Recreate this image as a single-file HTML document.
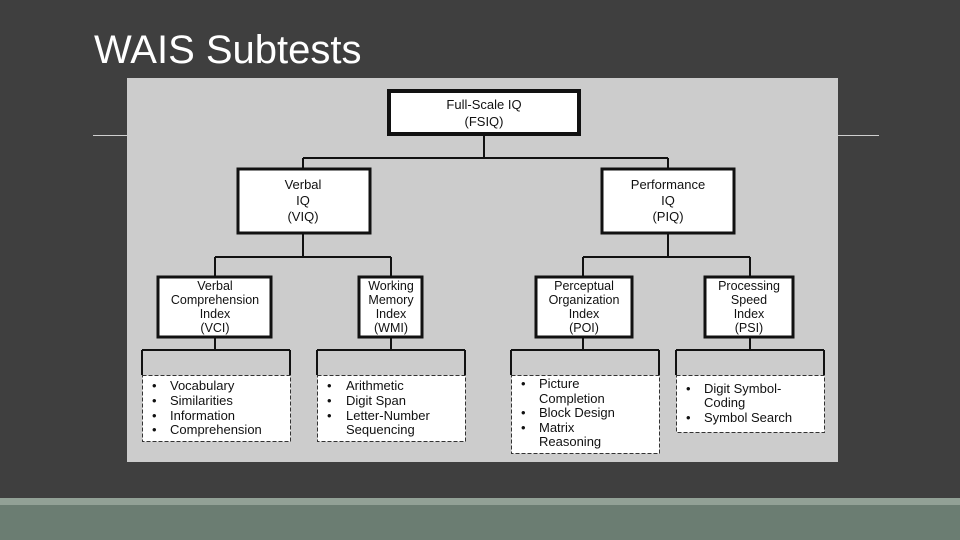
<!DOCTYPE html>
<html><head><meta charset="utf-8"><style>
html,body{margin:0;padding:0}
body{width:960px;height:540px;background:#3f3f3f;position:relative;overflow:hidden;font-family:"Liberation Sans",sans-serif}
</style></head><body>
<div style="position:absolute;left:94px;top:26px;font-size:40px;color:#fff;line-height:48px">WAIS Subtests</div>
<div style="position:absolute;left:93px;top:135px;width:786px;height:1px;background:#cfcfcf"></div>
<div style="position:absolute;left:0;top:498px;width:960px;height:7px;background:#92a196"></div>
<div style="position:absolute;left:0;top:505px;width:960px;height:35px;background:#6b7d72"></div>
<svg style="position:absolute;left:0;top:0" width="960" height="540" font-family="Liberation Sans, sans-serif" font-size="13" fill="#111">
<rect x="127" y="78" width="711" height="384" fill="#cccccc"/>
<g stroke="#111" stroke-width="2" fill="none">
<path d="M484 135V158M303 158H668M303 158V168M668 158V168"/>
<path d="M303 233V257M215 257H391M215 257V276M391 257V276"/>
<path d="M668 233V257M583 257H750M583 257V276M750 257V276"/>
<path d="M215 337V350M142 350H290M142 350V375M290 350V375"/>
<path d="M391 337V350M317 350H465M317 350V375M465 350V375"/>
<path d="M583 337V350M511 350H659M511 350V375M659 350V375"/>
<path d="M750 337V350M676 350H824M676 350V375M824 350V375"/>
</g>
<g fill="#fff" stroke="#111">
<rect x="389" y="91" width="190" height="43" stroke-width="4"/>
<rect x="238" y="169" width="132" height="64" stroke-width="3"/>
<rect x="602" y="169" width="132" height="64" stroke-width="3"/>
<rect x="158" y="277" width="113" height="60" stroke-width="3"/>
<rect x="359" y="277" width="63" height="60" stroke-width="3"/>
<rect x="536" y="277" width="96" height="60" stroke-width="3"/>
<rect x="705" y="277" width="88" height="60" stroke-width="3"/>
</g>
<g fill="#fff" stroke="#333" stroke-width="1" stroke-dasharray="4,2">
<rect x="142.5" y="375.5" width="148" height="66"/>
<rect x="317.5" y="375.5" width="148" height="66"/>
<rect x="511.5" y="375.5" width="148" height="78"/>
<rect x="676.5" y="375.5" width="148" height="57"/>
</g>
<g text-anchor="middle">
<text x="484" y="109">Full-Scale IQ</text><text x="484" y="126">(FSIQ)</text>
<text x="303" y="189">Verbal</text><text x="303" y="205">IQ</text><text x="303" y="221">(VIQ)</text>
<text x="668" y="189">Performance</text><text x="668" y="205">IQ</text><text x="668" y="221">(PIQ)</text>
<g font-size="12.5">
<text x="215" y="290">Verbal</text><text x="215" y="304">Comprehension</text><text x="215" y="318">Index</text><text x="215" y="332">(VCI)</text>
<text x="391" y="290">Working</text><text x="391" y="304">Memory</text><text x="391" y="318">Index</text><text x="391" y="332">(WMI)</text>
<text x="584" y="290">Perceptual</text><text x="584" y="304">Organization</text><text x="584" y="318">Index</text><text x="584" y="332">(POI)</text>
<text x="749" y="290">Processing</text><text x="749" y="304">Speed</text><text x="749" y="318">Index</text><text x="749" y="332">(PSI)</text>
</g></g>
<g font-size="13">
<text x="152" y="390">•</text><text x="170" y="390">Vocabulary</text>
<text x="152" y="405">•</text><text x="170" y="405">Similarities</text>
<text x="152" y="420">•</text><text x="170" y="420">Information</text>
<text x="152" y="434">•</text><text x="170" y="434">Comprehension</text>
<text x="327" y="390">•</text><text x="346" y="390">Arithmetic</text>
<text x="327" y="405">•</text><text x="346" y="405">Digit Span</text>
<text x="327" y="420">•</text><text x="346" y="420">Letter-Number</text>
<text x="346" y="434">Sequencing</text>
<text x="521" y="388">•</text><text x="539" y="388">Picture</text>
<text x="539" y="403">Completion</text>
<text x="521" y="417">•</text><text x="539" y="417">Block Design</text>
<text x="521" y="432">•</text><text x="539" y="432">Matrix</text>
<text x="539" y="446">Reasoning</text>
<text x="686" y="393">•</text><text x="704" y="393">Digit Symbol-</text>
<text x="704" y="407">Coding</text>
<text x="686" y="422">•</text><text x="704" y="422">Symbol Search</text>
</g>
</svg>
</body></html>
